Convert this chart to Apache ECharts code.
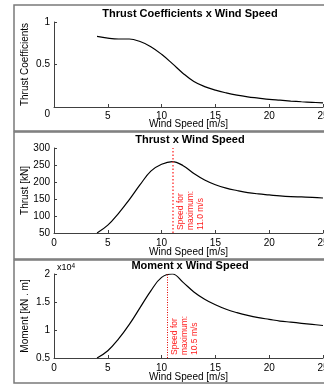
<!DOCTYPE html>
<html>
<head>
<meta charset="utf-8">
<script src="https://cdn.jsdelivr.net/npm/echarts@6/dist/echarts.min.js"></script>
<style>
  html, body { margin: 0; padding: 0; background: #fff; }
  #chart { width: 324px; height: 385px; }
</style>
</head>
<body>
<div id="chart"></div>
<script>
const windSpeed = [4, 5, 6, 7, 8, 9, 10, 11, 12, 13, 14, 15, 16, 17, 18, 19, 20, 21, 22, 23, 24, 25];
const thrustCoef = [0.83, 0.81, 0.80, 0.80, 0.77, 0.71, 0.62, 0.51, 0.395, 0.30, 0.24, 0.198, 0.166, 0.14, 0.12, 0.105, 0.09, 0.08, 0.07, 0.062, 0.055, 0.048];
const thrustKN = [50, 73, 108, 148, 192, 232, 252, 260, 248, 225, 206, 192, 182, 175, 169, 165, 162, 159, 157, 156, 155, 153];
const moment = [0.5, 0.63, 0.84, 1.1, 1.4, 1.7, 1.94, 2.0, 1.85, 1.68, 1.55, 1.45, 1.37, 1.31, 1.26, 1.22, 1.19, 1.16, 1.14, 1.12, 1.1, 1.08];
const xTicks = { min: 0, max: 25, interval: 5 };
const thrustMaxSpeed = 11.0;
const momentMaxSpeed = 10.5;

const FONT = '"Liberation Sans", Arial, Helvetica, sans-serif';
const AXIS_COLOR = '#404040';

const pairs = (ys) => windSpeed.map((x, i) => [x, ys[i]]);

const chart = echarts.init(document.getElementById('chart'));

function xAxisFor(gridIndex, nameGap, margin, showMin) {
  return {
    type: 'value',
    gridIndex,
    min: xTicks.min,
    max: xTicks.max,
    interval: xTicks.interval,
    name: 'Wind Speed [m/s]',
    nameLocation: 'middle',
    nameGap,
    nameMoveOverlap: false,
    nameTextStyle: { color: '#000', fontSize: 10, fontFamily: FONT },
    axisLine: { lineStyle: { color: AXIS_COLOR, width: 1 } },
    axisTick: { inside: true, length: 3, lineStyle: { color: AXIS_COLOR } },
    axisLabel: { color: '#000', fontSize: 10, fontFamily: FONT, margin, showMinLabel: showMin },
    splitLine: { show: false }
  };
}

function yAxisFor(gridIndex, name, min, max, interval, nameGap) {
  return {
    type: 'value',
    gridIndex,
    min, max, interval,
    name,
    nameLocation: 'middle',
    nameGap,
    nameMoveOverlap: false,
    nameTextStyle: { color: '#000', fontSize: 10, fontFamily: FONT },
    axisLine: { show: true, lineStyle: { color: AXIS_COLOR, width: 1 } },
    axisTick: { show: true, inside: true, length: 3, lineStyle: { color: AXIS_COLOR } },
    axisLabel: {
      color: '#000', fontSize: 10, fontFamily: FONT, margin: 4,
      // the bottom "0" of the first panel sits lower, in the x label row
      formatter: (v) => (gridIndex === 0 && v === 0 ? '{z|0}' : String(v)),
      rich: { z: { fontSize: 10, fontFamily: FONT, color: '#000', padding: [14, 0, 0, 0] } }
    },
    splitLine: { show: false }
  };
}

function maxLine(speed, color, width, dash) {
  return {
    silent: true,
    symbol: 'none',
    lineStyle: { color, width, type: dash },
    label: {
      show: true,
      position: 'insideStartBottom',
      formatter: 'Speed for\nmaximum:\n' + speed.toFixed(1) + ' m/s',
      color: '#ff2020',
      fontSize: 8.5,
      lineHeight: 10,
      fontFamily: FONT,
      distance: 3
    },
    data: [{ xAxis: speed }]
  };
}

const titleStyle = { color: '#000', fontSize: 11, fontWeight: 'bold', fontFamily: FONT };
const gridBase = { left: 54, width: 269, outerBoundsMode: 'none', containLabel: false };

const option = {
  animation: false,
  backgroundColor: '#fff',
  graphic: [
    { type: 'rect', shape: { x: 14, y: 5, width: 340, height: 126 }, style: { fill: '#fff', stroke: '#7a7a7a', lineWidth: 1.5 }, z: -10 },
    { type: 'rect', shape: { x: 14, y: 132, width: 340, height: 127 }, style: { fill: '#fff', stroke: '#7a7a7a', lineWidth: 1.5 }, z: -10 },
    { type: 'rect', shape: { x: 14, y: 260, width: 340, height: 123 }, style: { fill: '#fff', stroke: '#7a7a7a', lineWidth: 1.5 }, z: -10 },
    {
      type: 'text', left: 57, top: 263,
      style: {
        text: '{b|x10}{s|4}',
        rich: {
          b: { fontSize: 9, fontFamily: FONT, fill: '#000', verticalAlign: 'bottom' },
          s: { fontSize: 6.5, fontFamily: FONT, fill: '#000', verticalAlign: 'top' }
        }
      }
    }
  ],
  title: [
    { text: 'Thrust Coefficients x Wind Speed', left: 190, top: 8, textAlign: 'center', textStyle: titleStyle, padding: 0 },
    { text: 'Thrust x Wind Speed', left: 190, top: 134, textAlign: 'center', textStyle: titleStyle, padding: 0 },
    { text: 'Moment x Wind Speed', left: 190, top: 260, textAlign: 'center', textStyle: titleStyle, padding: 0 }
  ],
  grid: [
    Object.assign({ top: 22, height: 85 }, gridBase),
    Object.assign({ top: 148, height: 85 }, gridBase),
    Object.assign({ top: 274, height: 84 }, gridBase)
  ],
  xAxis: [
    xAxisFor(0, 12, 4, false),
    xAxisFor(1, 14, 5, true),
    xAxisFor(2, 14, 5, true)
  ],
  yAxis: [
    yAxisFor(0, 'Thrust Coefficients', 0, 1, 0.5, 24),
    yAxisFor(1, 'Thrust [kN]', 50, 300, 50, 24),
    yAxisFor(2, 'Moment [kN . m]', 0.5, 2, 0.5, 24)
  ],
  series: [
    {
      type: 'line', xAxisIndex: 0, yAxisIndex: 0, data: pairs(thrustCoef),
      smooth: 0.4, showSymbol: false, lineStyle: { color: '#000', width: 1.2 }
    },
    {
      type: 'line', xAxisIndex: 1, yAxisIndex: 1, data: pairs(thrustKN),
      smooth: 0.4, showSymbol: false, lineStyle: { color: '#000', width: 1.2 },
      markLine: maxLine(thrustMaxSpeed, '#ff5050', 1.6, [1.5, 2])
    },
    {
      type: 'line', xAxisIndex: 2, yAxisIndex: 2, data: pairs(moment),
      smooth: 0.4, showSymbol: false, lineStyle: { color: '#000', width: 1.2 },
      markLine: maxLine(momentMaxSpeed, '#e00000', 1, [1, 1.5])
    }
  ]
};

chart.setOption(option);
</script>
</body>
</html>
